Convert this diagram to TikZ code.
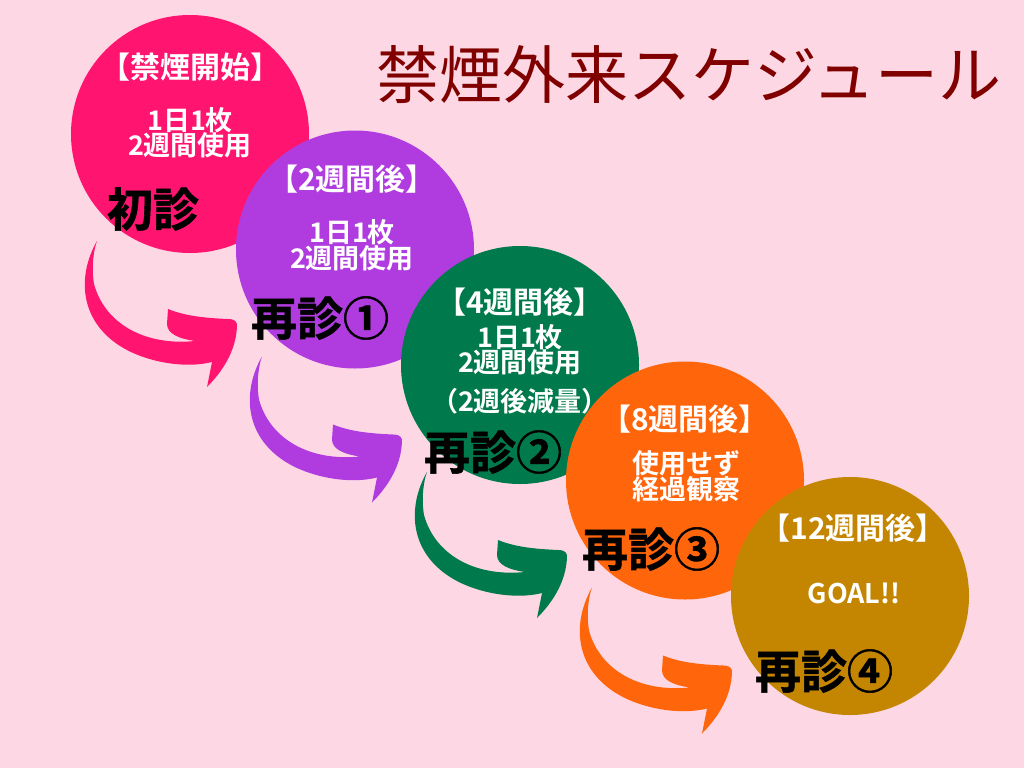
\documentclass[tikz,border=0pt]{standalone}
\usepackage{fontspec}
\newfontfamily\jp{Noto Sans CJK JP}[BoldFont={Noto Sans CJK JP Bold}]
\newfontfamily\jpk{Noto Sans CJK JP Bold}[FakeBold=1.2]
\definecolor{bgc}{HTML}{FDD8E4}
\definecolor{cpink}{HTML}{FF1470}
\definecolor{cpurple}{HTML}{B03CE0}
\definecolor{cgreen}{HTML}{007A4C}
\definecolor{corange}{HTML}{FF660C}
\definecolor{cgold}{HTML}{C48600}
\definecolor{ctitle}{HTML}{800000}
\tikzset{
  disc/.style={circle, inner sep=0pt, minimum size=238pt},
  wt/.style={text=white, font=\jp\bfseries\fontsize{27}{27}\selectfont, inner sep=0pt},
  wh/.style={text=white, font=\jp\bfseries\fontsize{30}{30}\selectfont, inner sep=0pt},
  bk/.style={text=black, font=\jpk\fontsize{46}{46}\selectfont, inner sep=0pt},
  swoosh/.pic={
    \path[pic actions] (-93,107) .. controls (-112,140) and (-112,185) .. (-70,212)
      .. controls (-45,228) and (-5,235) .. (22,228)
      -- (17,253)
      .. controls (30,240) and (47,218) .. (47,190)
      .. controls (46,186) and (42,185) .. (38,185)
      .. controls (15,184) and (-5,182) .. (-22,175)
      -- (-23,190)
      .. controls (-23,200) and (-10,205) .. (5,207)
      .. controls (-45,212) and (-85,190) .. (-96,150)
      .. controls (-99,132) and (-96,115) .. (-93,107) -- cycle;
  }
}
\begin{document}
\begin{tikzpicture}[x=1pt,y=-1pt]
\fill[bgc] (0,0) rectangle (1024,768);
\useasboundingbox (0,0) rectangle (1024,768);
% title
\node[text=ctitle, font=\jp\fontsize{63}{63}\selectfont, inner sep=0pt] (title) at (689,75) {禁煙外来スケジュール};
% discs
\node[disc, fill=cpink]   (c1) at (190,134) {};
\node[disc, fill=cpurple] (c2) at (355,249.5) {};
\node[disc, fill=cgreen]  (c3) at (520,365) {};
\node[disc, fill=corange] (c4) at (685,480.5) {};
\node[disc, fill=cgold]   (c5) at (850,596) {};
% arrows
\pic[fill=cpink]   at (c1.center) {swoosh};
\pic[fill=cpurple] at (c2.center) {swoosh};
\pic[fill=cgreen]  at (c3.center) {swoosh};
\pic[fill=corange] at (c4.center) {swoosh};
% circle 1
\node[wh] (h1) at (190,67) {【禁煙開始】};
\node[wt] (a1) at (190,120) {1日1枚};
\node[wt] (b1) at (190,145) {2週間使用};
\node[bk] (v1) at (153,209) {初診};
% circle 2
\node[wh] (h2) at (352,179) {【2週間後】};
\node[wt] (a2) at (352,232) {1日1枚};
\node[wt] (b2) at (352,258) {2週間使用};
\node[bk] (v2) at (320,318) {再診①};
% circle 3
\node[wh] (h3) at (520,302) {【4週間後】};
\node[wt] (a3) at (520,337) {1日1枚};
\node[wt] (b3) at (520,362) {2週間使用};
\node[wt] (d3) at (520,401) {（2週後減量）};
\node[bk] (v3) at (493,452) {再診②};
% circle 4
\node[wh] (h4) at (685,419) {【8週間後】};
\node[wt] (a4) at (686,463) {使用せず};
\node[wt] (b4) at (686,489) {経過観察};
\node[bk] (v4) at (651,549) {再診③};
% circle 5
\node[wh] (h5) at (853,528) {【12週間後】};
\node[wt] (g5) at (854,593) {GOAL!!};
\node[bk] (v5) at (824,671) {再診④};
\end{tikzpicture}
\end{document}
